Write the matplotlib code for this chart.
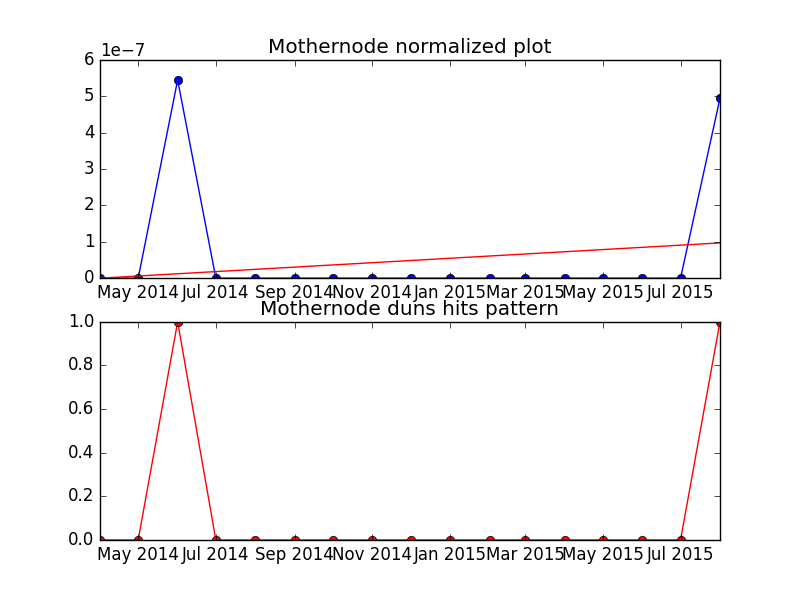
import datetime as dt
import matplotlib
matplotlib.use('Agg')
from matplotlib import pyplot as plt
import matplotlib.dates as mdates

plt.style.use('classic')

# monthly samples, Apr 2014 .. Aug 2015
months = [dt.date(2014, m, 1) for m in range(4, 13)] + [dt.date(2015, m, 1) for m in range(1, 9)]

normalized = [0, 0, 5.45e-7, 0, 0, 0, 0, 0, 0, 0, 0, 0, 0, 0, 0, 0, 4.95e-7]
hits = [0, 0, 1, 0, 0, 0, 0, 0, 0, 0, 0, 0, 0, 0, 0, 0, 1]

# trend line end points
trend_dates = [months[0], months[-1]]
trend_values = [0.0, 0.97e-7]

fig = plt.figure(figsize=(8, 6), dpi=100, facecolor='white')

ax1 = fig.add_subplot(2, 1, 1)
ax1.plot(months, normalized, 'bo-')
ax1.plot(trend_dates, trend_values, 'r-')
ax1.set_title('Mothernode normalized plot')
ax1.set_ylim(0, 6e-7)
ax1.set_xlim(months[0], months[-1])

ax2 = fig.add_subplot(2, 1, 2)
ax2.plot(months, hits, 'ro-')
ax2.set_title('Mothernode duns hits pattern')
ax2.set_ylim(0, 1)
ax2.set_xlim(months[0], months[-1])

for ax in (ax1, ax2):
    ax.xaxis.set_major_locator(mdates.MonthLocator(bymonth=[1, 3, 5, 7, 9, 11]))
    ax.xaxis.set_major_formatter(mdates.DateFormatter('%b %Y'))

fig.savefig('out.png', dpi=100, facecolor='white')
